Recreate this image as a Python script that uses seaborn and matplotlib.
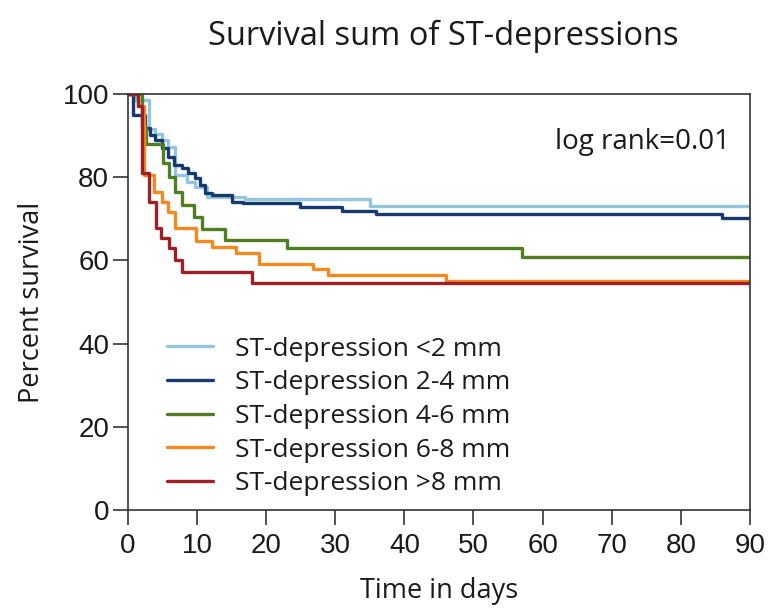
import pandas as pd
import matplotlib.pyplot as plt
import seaborn as sns

# Kaplan-Meier steps (time in days, percent survival)
groups = ["ST-depression <2 mm", "ST-depression 2-4 mm", "ST-depression 4-6 mm",
          "ST-depression 6-8 mm", "ST-depression >8 mm"]

t_lt2 = [0, 1.0, 3.1, 3.9, 4.9, 5.8, 6.8, 8.5, 9.7, 11.5, 17, 35, 90]
s_lt2 = [100, 98.6, 91.7, 90.5, 88.9, 87.3, 80.5, 78.9, 77.7, 75.3, 74.7, 73.1, 73.1]

t_2_4 = [0, 0.8, 2.5, 3.2, 3.9, 4.9, 5.8, 6.6, 7.8, 8.7, 9.7, 10.4, 11.1, 12.1,
         15, 16.7, 24.9, 30.9, 35.9, 85.9, 90]
s_2_4 = [100, 95, 91.8, 90.1, 88.9, 86.9, 84.9, 82.9, 82.1, 80.9, 79.7, 78.1, 76.1, 75.7,
         74.1, 73.7, 72.9, 71.9, 71.1, 70.1, 70.1]

t_4_6 = [0, 2.1, 2.6, 5.0, 6.0, 6.8, 7.8, 9.5, 10.7, 14, 23, 57, 90]
s_4_6 = [100, 92, 88, 83.3, 80, 76.5, 73.3, 70.5, 67.5, 64.9, 62.9, 60.9, 60.9]

t_6_8 = [0, 1.5, 2.3, 3.7, 4.9, 5.8, 6.8, 9.9, 12.1, 15.7, 19.0, 26.8, 29, 46, 90]
s_6_8 = [100, 97, 80.5, 76.5, 74.1, 71.7, 67.7, 64.7, 63.3, 61.7, 59.2, 57.9, 56.5, 55.1, 55.1]

t_gt8 = [0, 1.5, 2.0, 3.0, 4.0, 4.8, 5.9, 6.8, 7.8, 18, 90]
s_gt8 = [100, 97, 81, 74, 67.7, 65.3, 62.9, 60.1, 57.3, 54.5, 54.5]

colors = ["#93c6dc", "#163a6e", "#4f7d22", "#f28a1e", "#a01f24"]

times = [t_lt2, t_2_4, t_4_6, t_6_8, t_gt8]
survs = [s_lt2, s_2_4, s_4_6, s_6_8, s_gt8]
df = pd.concat([pd.DataFrame({"time": t, "surv": s, "group": g})
                for t, s, g in zip(times, survs, groups)], ignore_index=True)

sns.set_style("ticks")
plt.rcParams["font.family"] = ["Liberation Sans", "DejaVu Sans"]

fig = plt.figure(figsize=(7.69, 6.12), dpi=100)
ax = fig.add_axes([0.1664, 0.1667, 0.8088, 0.6797])

sns.lineplot(data=df, x="time", y="surv", hue="group", hue_order=groups,
             palette=colors, drawstyle="steps-post", linewidth=2.4,
             estimator=None, sort=False, ax=ax)

ax.set_xlim(0, 90)
ax.set_ylim(0, 100)
ax.set_xticks(range(0, 91, 10))
ax.set_yticks(range(0, 101, 20))
ax.tick_params(axis="both", labelsize=20, length=10.5, width=1.2, color="#333333",
               labelcolor="#1a1a1a")
ax.tick_params(axis="x", pad=6)
ax.tick_params(axis="y", pad=3)
for sp in ax.spines.values():
    sp.set_linewidth(1.2)
    sp.set_color("#333333")

ax.set_xlabel("Time in days", fontsize=19.5, family="Open Sans", labelpad=13, color="#1a1a1a")
ax.set_ylabel("Percent survival", fontsize=19.5, family="Open Sans", labelpad=12, color="#1a1a1a")
fig.suptitle("Survival sum of ST-depressions", fontsize=23.5, family="Open Sans",
             x=0.576, y=0.968, color="#1a1a1a")

ax.text(0.968, 0.885, "log rank=0.01", transform=ax.transAxes, ha="right", va="center",
        fontsize=20, family="Open Sans", color="#1a1a1a")

handles, labels = ax.get_legend_handles_labels()
ax.legend(handles, labels, frameon=False, loc="upper left", bbox_to_anchor=(0.024, 0.474),
          prop={"family": "Open Sans", "size": 19}, handlelength=1.75, handletextpad=0.85,
          labelspacing=0.33, labelcolor="#1a1a1a")

fig.savefig("out.png", dpi=100)
